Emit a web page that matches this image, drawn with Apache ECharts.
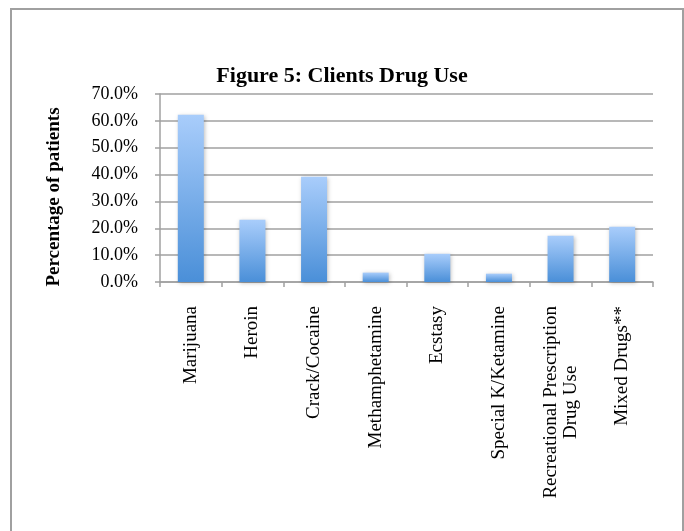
<!DOCTYPE html>
<html>
<head>
<meta charset="utf-8">
<script src="https://cdn.jsdelivr.net/npm/echarts@6/dist/echarts.min.js"></script>
<style>html,body{margin:0;padding:0;background:#fff}#c{width:684px;height:531px}</style>
</head>
<body>
<div id="c"></div>
<script>
var categories = ['Marijuana', 'Heroin', 'Crack/Cocaine', 'Methamphetamine', 'Ecstasy', 'Special K/Ketamine', 'Recreational Prescription\nDrug Use', 'Mixed Drugs**'];
var values = [62.3, 23.2, 39.2, 3.5, 10.5, 3.1, 17.2, 20.6];
var titleText = 'Figure 5: Clients Drug Use';
var yAxisName = 'Percentage of patients';

var chart = echarts.init(document.getElementById('c'));
var serif = '"Liberation Serif", "DejaVu Serif", serif';
chart.setOption({
  animation: false,
  backgroundColor: '#fff',
  title: {
    text: titleText, left: 'center', top: 60,
    textStyle: { fontFamily: serif, fontWeight: 'bold', fontSize: 22, color: '#000' }
  },
  graphic: [{
    type: 'rect', shape: { x: 11, y: 9, width: 672, height: 600 },
    style: { fill: 'none', stroke: '#a0a0a0', lineWidth: 2 }, silent: true
  }],
  grid: { left: 160, right: 31, top: 94, bottom: 249 },
  xAxis: {
    type: 'category', data: categories,
    axisLine: { lineStyle: { color: '#a0a0a0', width: 1.5 } },
    axisTick: { show: true, length: 5, inside: false, lineStyle: { color: '#a0a0a0', width: 1.5 } },
    axisLabel: {
      rotate: 90, margin: 24, color: '#000', interval: 0,
      formatter: function (v) { return v.split('\n').map(function (s) { return '{c|' + s + '}'; }).join('\n'); },
      rich: { c: { align: 'center', fontFamily: serif, fontSize: 19, lineHeight: 20, color: '#000' } }
    }
  },
  yAxis: {
    type: 'value', min: 0, max: 70, interval: 10,
    name: yAxisName, nameLocation: 'middle', nameGap: 96, nameRotate: 90,
    nameTextStyle: { fontFamily: serif, fontWeight: 'bold', fontSize: 19, color: '#000', padding: [0, 18, 0, 0] },
    axisLine: { show: true, lineStyle: { color: '#a0a0a0', width: 1.5 } },
    axisTick: { show: true, length: 5, lineStyle: { color: '#a0a0a0', width: 1.5 } },
    splitLine: { lineStyle: { color: '#a0a0a0', width: 1.5 } },
    axisLabel: { formatter: function (v) { return v.toFixed(1) + '%'; }, margin: 22, fontFamily: serif, fontSize: 18, color: '#000' }
  },
  series: [{
    type: 'bar', data: values, barWidth: 26,
    itemStyle: {
      color: new echarts.graphic.LinearGradient(0, 0, 0, 1, [
        { offset: 0, color: '#a9cdfb' }, { offset: 1, color: '#4a8fd8' }
      ]),
      shadowColor: 'rgba(0,0,0,0.25)', shadowBlur: 4, shadowOffsetX: 1, shadowOffsetY: 1
    }
  }]
});
</script>
</body>
</html>
